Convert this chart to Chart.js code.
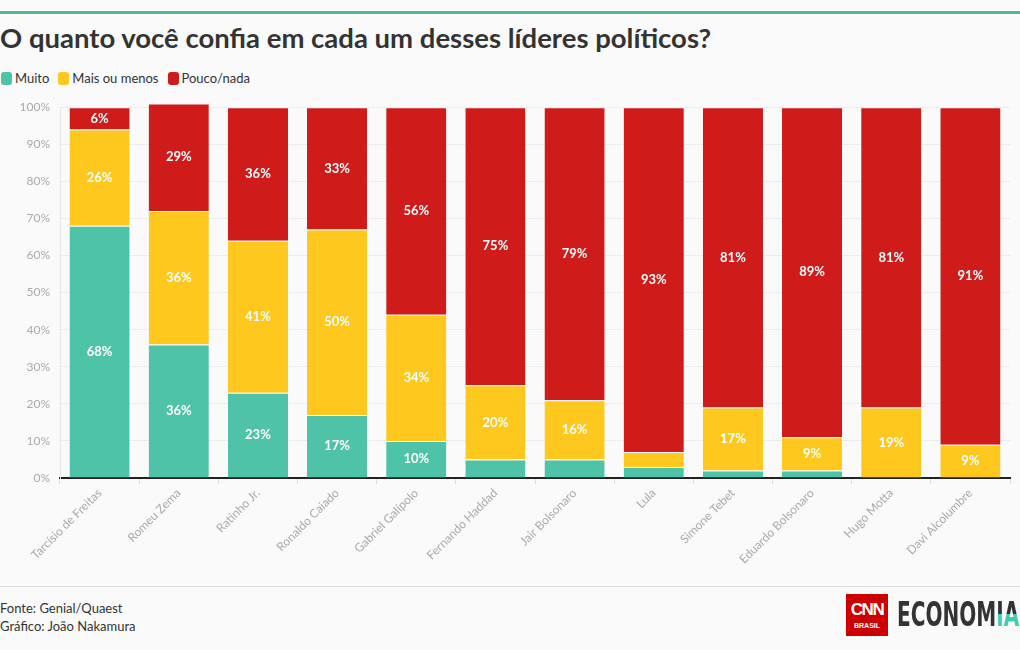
<!DOCTYPE html>
<html>
<head>
<meta charset="utf-8">
<script src="https://cdn.jsdelivr.net/npm/chart.js@4"></script>
<style>
  html,body{margin:0;padding:0;background:#fafafa;}
  body{width:1020px;height:650px;position:relative;overflow:hidden;font-family:"Lato","Open Sans",sans-serif;}
  #topbar{position:absolute;left:0;top:11px;width:1020px;height:3px;background:#4db89c;}
  #title{position:absolute;left:0;top:21px;font-size:27.5px;font-weight:700;color:#333;letter-spacing:0px;white-space:nowrap;}
  #legend{position:absolute;left:1px;top:70px;font-size:13px;color:#333;display:flex;align-items:center;}
  .li{display:flex;align-items:center;margin-right:9px;}
  .sw{width:11px;height:13px;border-radius:3px;margin-right:3px;}
  #wrap{position:absolute;left:0;top:90px;width:1020px;height:490px;}
  #sep{position:absolute;left:0;top:586px;width:1020px;height:1px;background:#ddd;}
  #foot{position:absolute;left:0;top:599px;font-size:13px;color:#333;line-height:18px;}
  #cnn{position:absolute;left:846px;top:594px;width:42px;height:42px;background:#cc0000;color:#fff;text-align:center;}
  #cnn .c{font-family:"Liberation Sans",sans-serif;font-weight:700;font-size:17px;letter-spacing:-1.5px;line-height:17px;margin-top:7px;}
  #cnn .b{font-family:"Liberation Sans",sans-serif;font-weight:700;font-size:7px;line-height:9px;margin-top:3px;}
  #eco{position:absolute;left:897px;top:596px;font-family:"DejaVu Sans","Liberation Sans",sans-serif;font-weight:700;font-size:34px;line-height:36px;color:#333;white-space:nowrap;transform-origin:0 0;}
  #eco .ia{background:linear-gradient(#333 0%,#333 50%,#3fcfb0 50%,#3fcfb0 100%);-webkit-background-clip:text;background-clip:text;color:transparent;}
</style>
</head>
<body>
<div id="topbar"></div>
<div id="title">O quanto você confia em cada um desses líderes políticos?</div>
<div id="legend"></div>
<div id="wrap"><canvas id="c" width="1020" height="490"></canvas></div>
<div id="sep"></div>
<div id="foot">Fonte: Genial/Quaest<br>Gráfico: João Nakamura</div>
<div id="cnn"><div class="c">CNN</div><div class="b">BRASIL</div></div>
<div id="eco">ECONOM<span class="ia">IA</span></div>
<script>
const categories = ["Tarcísio de Freitas","Romeu Zema","Ratinho Jr.","Ronaldo Caiado","Gabriel Galípolo","Fernando Haddad","Jair Bolsonaro","Lula","Simone Tebet","Eduardo Bolsonaro","Hugo Motta","Davi Alcolumbre"];
const muito = [68,36,23,17,10,5,5,3,2,2,0,0];
const maisOuMenos = [26,36,41,50,34,20,16,4,17,9,19,9];
const poucoNada = [6,29,36,33,56,75,79,93,81,89,81,91];
const seriesNames = ["Muito","Mais ou menos","Pouco/nada"];
const seriesColors = ["#4fc3a8","#ffc81e","#d01b1b"];
const yTicks = [0,10,20,30,40,50,60,70,80,90,100];

// fit logo word
const eco=document.getElementById('eco');
eco.style.transform='scaleX('+(122/eco.offsetWidth)+')';

// HTML legend
const lg = document.getElementById('legend');
seriesNames.forEach((n,i)=>{
  const d=document.createElement('div');d.className='li';
  d.innerHTML='<div class="sw" style="background:'+seriesColors[i]+'"></div><span>'+n+'</span>';
  lg.appendChild(d);
});

const labelPlugin = {
  id:'segLabels',
  afterDatasetsDraw(chart){
    const ctx=chart.ctx;
    ctx.save();
    ctx.font='bold 13px Lato, "Open Sans", sans-serif';
    ctx.fillStyle='#fff';
    ctx.textAlign='center';
    ctx.textBaseline='middle';
    chart.data.datasets.forEach((ds,di)=>{
      const meta=chart.getDatasetMeta(di);
      meta.data.forEach((el,i)=>{
        const v=ds.data[i];
        if(v>=6){
          ctx.fillText(v+'%', el.x, (el.y+el.base)/2);
        }
      });
    });
    ctx.restore();
  }
};

const seriesData=[muito,maisOuMenos,poucoNada];
new Chart(document.getElementById('c'),{
  type:'bar',
  data:{
    labels:categories,
    datasets:seriesData.map((d,i)=>({
      label:seriesNames[i],
      data:d,
      backgroundColor:seriesColors[i],
      borderColor:'#fafafa',
      borderWidth:{top:1,bottom:0,left:0,right:0},
      borderSkipped:false,
      clip:false,
      barPercentage:0.76,
      categoryPercentage:1
    }))
  },
  options:{
    responsive:false,
    animation:false,
    layout:{padding:{top:8,right:10,left:0,bottom:0}},
    plugins:{legend:{display:false},tooltip:{enabled:false}},
    scales:{
      x:{
        stacked:true,
        grid:{drawOnChartArea:false,drawTicks:true,tickLength:6,color:'#dddddd'},
        border:{color:'#222',width:2},
        ticks:{color:'#aaaaaa',font:{family:'Lato, "Open Sans", sans-serif',size:12},maxRotation:45,minRotation:45,padding:2},
        afterFit(s){s.height=102;}
      },
      y:{
        stacked:true,
        min:0,max:100,
        afterBuildTicks(s){s.ticks=yTicks.map(v=>({value:v}));},
        grid:{color:'#ececec',drawTicks:false},
        border:{color:'#e6e6e6'},
        ticks:{color:'#aaaaaa',font:{family:'Lato, "Open Sans", sans-serif',size:12},padding:10,callback:v=>v+'%'},
        afterFit(s){s.width=60;}
      }
    }
  },
  plugins:[labelPlugin]
});
</script>
</body>
</html>
